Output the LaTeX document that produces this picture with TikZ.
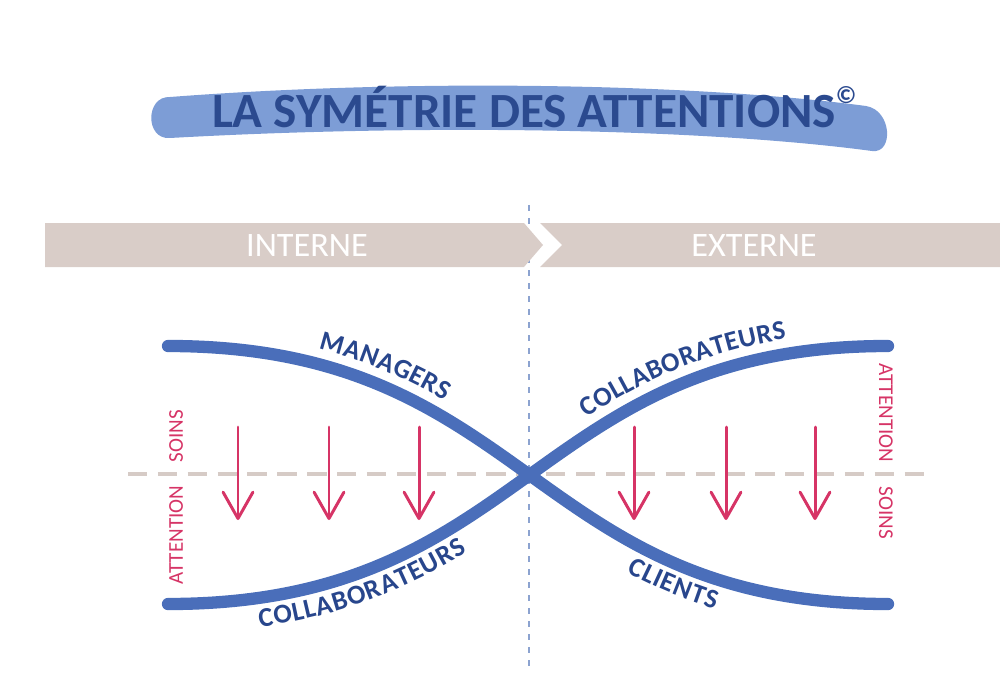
\documentclass[tikz,border=0pt]{standalone}
\usepackage{fontspec}
\setmainfont{Carlito}
\usetikzlibrary{arrows.meta,decorations.text}
\definecolor{titleblue}{RGB}{43,74,143}
\definecolor{swashblue}{RGB}{125,157,214}
\definecolor{curveblue}{RGB}{74,110,186}
\definecolor{labelblue}{RGB}{40,70,140}
\definecolor{bandgrey}{RGB}{217,205,200}
\definecolor{soinred}{RGB}{214,52,102}
\definecolor{dashgrey}{RGB}{214,203,198}
\definecolor{vdashblue}{RGB}{140,163,208}
\newcommand\curvefont{\bfseries\fontsize{15.5}{16}\selectfont}
\begin{document}
\begin{tikzpicture}[x=0.02cm,y=-0.02cm,
                    band/.style={fill=bandgrey},
                    bandtext/.style={text=white,font=\fontsize{19.5}{20}\selectfont,inner sep=0pt},
                    strand/.style={draw=curveblue,line width=7pt,line cap=round},
                    soin/.style={draw=soinred,line width=1.7pt,line cap=round,
                                 -{Straight Barb[length=15pt,width=17pt,round]}},
                    soinlabel/.style={text=soinred,font=\fontsize{12}{12}\selectfont,inner sep=0pt}
                   ]
   \useasboundingbox (0,0) rectangle (1000,689);
   % title
   \fill[swashblue] (170,97) .. controls (420,78) and (700,84) .. (866,106)
        .. controls (892,110) and (894,154) .. (872,151)
        .. controls (700,128) and (420,124) .. (170,138)
        .. controls (145,140) and (145,96) .. (170,97) -- cycle;
   \node[text=titleblue,font=\bfseries\fontsize{28}{28}\selectfont,inner sep=0pt,anchor=base] (title) at (524,128)
        {LA SYMÉTRIE DES ATTENTIONS\rlap{\raisebox{0.5em}{\fontsize{14}{14}\selectfont ©}}};
   % dashed guides
   \coordinate (vtop) at (529,205);
   \coordinate (vbot) at (529,668);
   \coordinate (hleft) at (128,474);
   \coordinate (hright) at (930,474);
   \draw[vdashblue,line width=1.1pt,dash pattern=on 3.4pt off 4pt] (vtop) -- (vbot);
   \draw[dashgrey,line width=2.3pt,dash pattern=on 11pt off 6pt] (hleft) -- (hright);
   % band
   \fill[band] (45,223) -- (524,223) -- (543,245) -- (524,267) -- (45,267) -- cycle;
   \fill[band] (540,223) -- (1000,223) -- (1000,267) -- (540,267) -- (562,245) -- cycle;
   \node[bandtext] (interne) at (307,246) {INTERNE};
   \node[bandtext] (externe) at (754,246) {EXTERNE};
   % strands
   \coordinate (ml) at (168,346);
   \coordinate (cl) at (168,604);
   \coordinate (cross) at (529.5,475);
   \coordinate (cr) at (888,346);
   \coordinate (kr) at (888,604);
   \draw[strand] (ml) .. controls (349,346) and (439.5,410.5) .. (cross)
                      .. controls (619.5,539.5) and (709,604) .. (kr);
   \draw[strand] (cl) .. controls (349,604) and (439.5,539.5) .. (cross)
                      .. controls (619.5,410.5) and (709,346) .. (cr);
   \path[decorate,decoration={text along path,text={|\color{labelblue}\curvefont|MANAGERS},
         text align={left indent=84pt},raise=8.5pt}]
         (ml) .. controls (349,346) and (439.5,410.5) .. (cross);
   \path[decorate,decoration={text along path,text={|\color{labelblue}\curvefont|COLLABORATEURS},
         text align={left indent=50pt},raise=-16.5pt}]
         (cl) .. controls (349,604) and (439.5,539.5) .. (cross);
   \path[decorate,decoration={text along path,text={|\color{labelblue}\curvefont|COLLABORATEURS},
         text align={left indent=45pt},raise=8.5pt}]
         (cross) .. controls (619.5,410.5) and (709,346) .. (cr);
   \path[decorate,decoration={text along path,text={|\color{labelblue}\curvefont|CLIENTS},
         text align={left indent=75pt},raise=-16.5pt}]
         (cross) .. controls (619.5,539.5) and (709,604) .. (kr);
   % arrows
   \foreach \x [count=\i] in {238,329,419,634,726,815}{
     \coordinate (top\i) at (\x,427);
     \coordinate (tip\i) at (\x,520);
     \draw[soin] (top\i) -- (tip\i);
   }
   \node[soinlabel,rotate=90] (soinsL) at (176,436) {SOINS};
   \node[soinlabel,rotate=90] (attL) at (176,535) {ATTENTION};
   \node[soinlabel,rotate=-90] (attR) at (886,413) {ATTENTION};
   \node[soinlabel,rotate=-90] (soinsR) at (886,513) {SOINS};
\end{tikzpicture}
\end{document}
